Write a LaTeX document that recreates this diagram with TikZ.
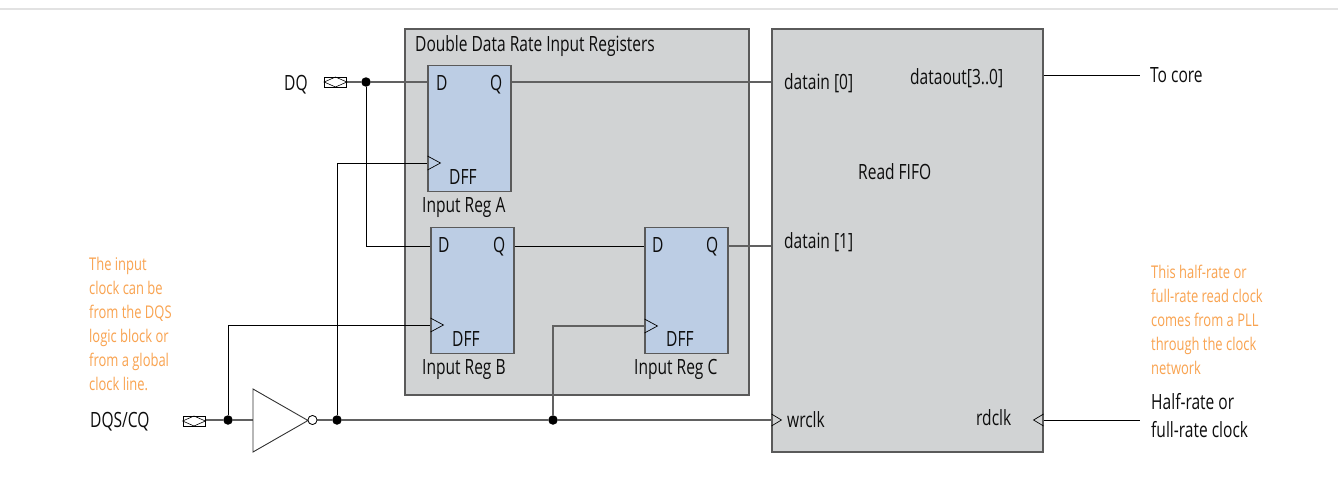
\documentclass[tikz,border=0pt]{standalone}
\usepackage{fontspec}
\setmainfont[FakeStretch=0.74]{Open Sans}
\usetikzlibrary{arrows.meta,calc}
\definecolor{boxgray}{HTML}{D1D3D4}
\definecolor{regblue}{HTML}{BCCDE4}
\definecolor{noteorange}{HTML}{F9A350}
\definecolor{rulegray}{HTML}{E2E2E2}
\definecolor{edgegray}{HTML}{5A5A5A}
\tikzset{
 blockbox/.style={draw=edgegray,line width=1.1pt,fill=boxgray,inner sep=0pt,minimum width=#1},
 regbox/.style={draw=edgegray,line width=1.1pt,fill=regblue,inner sep=0pt,minimum width=83pt,minimum height=126pt},
 wire/.style={draw=black!62,line width=1.2pt},
 thin wire/.style={draw=black,line width=0.8pt},
 lbl/.style={inner sep=0pt,anchor=base west,yshift=-1pt,font=\fontsize{21pt}{24pt}\selectfont,text=black!95},
 note/.style={inner sep=0pt,anchor=base west,yshift=-1pt,font=\fontsize{17.5pt}{20pt}\selectfont,text=noteorange},
 jdot/.style={circle,fill=black,inner sep=0pt,minimum size=9.5pt},
 padbox/.style={draw=black,line width=0.7pt,fill=white,inner sep=0pt,minimum width=22pt,minimum height=10pt},
 clk/.style={draw=black,line width=0.7pt,fill=none},
}
\begin{document}
\begin{tikzpicture}[x=1pt,y=-1pt]
\useasboundingbox (0,0) rectangle (1338,479);
\fill[white] (0,0) rectangle (1338,479);
\coordinate (ruleL) at (0,9); \coordinate (ruleR) at (1338,9);
\draw[rulegray,line width=1.4pt] (ruleL) -- (ruleR);
% blocks
\node[blockbox=344pt,minimum height=366pt] (ddr) at (577,212) {};
\node[blockbox=271pt,minimum height=423pt] (fifo) at (907.5,240.5) {};
\node[regbox] (rega) at (469.5,128.5) {};
\node[regbox] (regb) at (472.5,290.5) {};
\node[regbox] (regc) at (686.5,290.5) {};
% coordinates
\node[padbox] (dqpad) at (335.5,82) {};
\node[padbox] (dqspad) at (194,421) {};
\coordinate (ad) at (rega.west |- 0,82);
\coordinate (aq) at (rega.east |- 0,82);
\coordinate (bd) at (regb.west |- 0,246);
\coordinate (bq) at (regb.east |- 0,246);
\coordinate (cd) at (regc.west |- 0,246);
\coordinate (cq) at (regc.east |- 0,246);
\coordinate (fa) at (fifo.west |- 0,82);
\coordinate (fb) at (fifo.west |- 0,246);
\coordinate (fw) at (fifo.west |- 0,420);
\coordinate (fr) at (fifo.east |- 0,420);
\coordinate (fo) at (fifo.east |- 0,75);
\coordinate (coreend) at (1140,75);
\coordinate (hrend) at (1140,420);
\coordinate (ac) at (rega.west |- 0,163);
\coordinate (bc) at (regb.west |- 0,325);
\coordinate (cc) at (regc.west |- 0,326);
\node[jdot] (j1) at (366,82) {};
\node[jdot] (j2) at (228,420) {};
\node[jdot] (j3) at (337,420) {};
\node[jdot] (j4) at (553,420) {};
\coordinate (tl) at (253,389); \coordinate (bl) at (253,452); \coordinate (tip) at (308,420.5);
\coordinate (il) at (253,420);
\node[circle,draw=black,line width=0.7pt,fill=white,inner sep=0pt,minimum size=9pt] (bub) at (312.5,420) {};
% wires
\draw[wire] (dqpad) -- (j1) -- (ad);
\draw[thin wire] (j1) |- (bd);
\draw[wire] (aq) -- (fa);
\draw[thin wire] (bq) -- (cd);
\draw[wire] (cq) -- (fb);
\draw[thin wire] (j3) |- (ac);
\draw[thin wire] (j2) |- (bc);
\draw[wire] (j4) |- (cc);
\draw[wire] (dqspad.east |- il) -- (j2) -- (il);
\draw[wire] (bub) -- (j3) -- (j4) -- (fw);
\draw[thin wire] (fr) -- (hrend);
\draw[thin wire] (fo) -- (coreend);
% redraw pads on top
\node[padbox] at (dqpad) {};
\draw[line width=0.6pt] (dqpad.west) -- ($(dqpad.center)+(0,-5)$) -- (dqpad.east) -- ($(dqpad.center)+(0,5)$) -- cycle;
\node[padbox] at (dqspad) {};
\draw[line width=0.6pt] (dqspad.west) -- ($(dqspad.center)+(0,-5)$) -- (dqspad.east) -- ($(dqspad.center)+(0,5)$) -- cycle;
% inverter
\draw[line width=0.9pt,draw=black!80,fill=white,line join=miter] (tl) -- (tip) -- (bl) -- cycle;
\node[circle,draw=black,line width=0.7pt,fill=white,inner sep=0pt,minimum size=9pt] at (bub) {};
% clock triangles
\draw[clk] ($(ac)+(0,-7)$) -- ($(ac)+(13,0)$) -- ($(ac)+(0,7)$);
\draw[clk] ($(bc)+(0,-7)$) -- ($(bc)+(13,0)$) -- ($(bc)+(0,7)$);
\draw[clk] ($(cc)+(0,-7)$) -- ($(cc)+(13,0)$) -- ($(cc)+(0,7)$);
\draw[clk] ($(fw)+(0,-6)$) -- ($(fw)+(10,0)$) -- ($(fw)+(0,6)$);
\draw[clk] ($(fr)+(0,-6)$) -- ($(fr)+(-10,0)$) -- ($(fr)+(0,6)$);
% labels
\node[lbl] (t1) at (415,50) {Double Data Rate Input Registers};
\node[lbl] (t2) at (284,89) {DQ};
\node[lbl] (t3) at (436,89) {D};
\node[lbl] (t4) at (490,89) {Q};
\node[lbl] (t5) at (449,183) {DFF};
\node[lbl] (t6) at (422,211) {Input Reg A};
\node[lbl] (t7) at (438,251) {D};
\node[lbl] (t8) at (493,251) {Q};
\node[lbl] (t9) at (452,345) {DFF};
\node[lbl] (t10) at (422,373) {Input Reg B};
\node[lbl] (t11) at (652,251) {D};
\node[lbl] (t12) at (706,251) {Q};
\node[lbl] (t13) at (666,345) {DFF};
\node[lbl] (t14) at (634,373) {Input Reg C};
\node[lbl] (t15) at (784,88) {datain [0]};
\node[lbl] (t16) at (784,247) {datain [1]};
\node[lbl] (t17) at (787,426) {wrclk};
\node[lbl] (t18) at (910,83) {dataout[3..0]};
\node[lbl] (t19) at (858,178) {Read FIFO};
\node[lbl] (t20) at (976,424) {rdclk};
\node[lbl] (t21) at (1150,81) {To core};
\node[lbl] (t22) at (1151,408) {Half-rate or};
\node[lbl] (t23) at (1151,436) {full-rate clock};
\node[lbl] (t24) at (90,426) {DQS/CQ};
\node[note] (n1) at (89,269) {The input};
\node[note] (n2) at (89,293) {clock can be};
\node[note] (n3) at (89,317) {from the DQS};
\node[note] (n4) at (89,341) {logic block or};
\node[note] (n5) at (89,365) {from a global};
\node[note] (n6) at (89,389) {clock line.};
\node[note] (n7) at (1151,277) {This half-rate or};
\node[note] (n8) at (1151,301) {full-rate read clock};
\node[note] (n9) at (1151,325) {comes from a PLL};
\node[note] (n10) at (1151,349) {through the clock};
\node[note] (n11) at (1151,373) {network};
\end{tikzpicture}
\end{document}
